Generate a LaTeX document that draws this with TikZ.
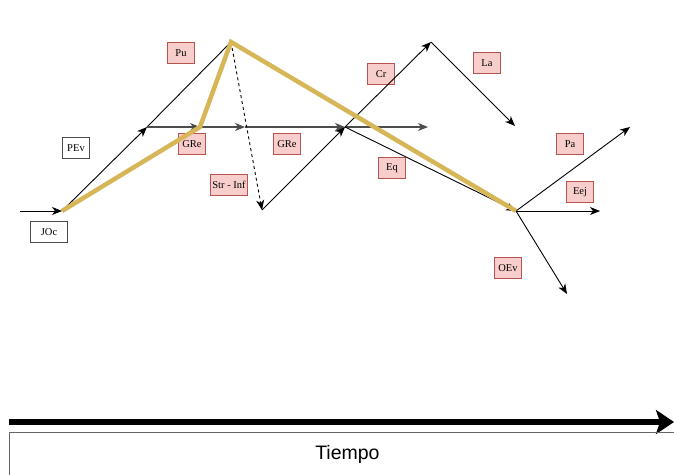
\documentclass[tikz,border=0pt]{standalone}
\usepackage{fontspec}
\setmainfont{Liberation Serif}
\newfontfamily\tiempofont{Liberation Sans}
\usepackage{xcolor}
\usetikzlibrary{arrows.meta}
\definecolor{etqfill}{HTML}{F8CECC}
\definecolor{etqdraw}{HTML}{B85450}
\definecolor{senda}{HTML}{D6B656}
\tikzset{
  etq/.style={draw=etqdraw, line width=1pt, fill=etqfill, minimum width=27pt, minimum height=21pt, inner sep=2pt, font=\fontsize{10.5}{12}\selectfont},
  etqw/.style={etq, draw=black!70, fill=white},
  flecha/.style={-{Stealth[length=10pt, width=8pt, inset=3pt]}, line width=0.9pt},
  guia/.style={flecha, black!70, line width=1.3pt},
  sendero/.style={senda, line width=4.5pt, line join=miter},
}

\begin{document}
\begin{tikzpicture}[x=1pt, y=-1pt]
    \useasboundingbox (0,0) rectangle (674,474);
    % puntos de paso
    \coordinate (entrada) at (20,211);
    \coordinate (joc) at (62,211);
    \coordinate (pev) at (147,127);
    \coordinate (pu) at (231,42);
    \coordinate (gre) at (200,127);
    \coordinate (gre2) at (245,127);
    \coordinate (cruce) at (345,127);
    \coordinate (fin) at (428,127);
    \coordinate (inf) at (262,210);
    \coordinate (cr) at (431,42);
    \coordinate (la) at (515,126);
    \coordinate (eq) at (516,211);
    \coordinate (pa) at (630,127);
    \coordinate (eej) at (600,211);
    \coordinate (oev) at (567,294);
    % etiquetas
    \node[etq] (lpu) at (181,53) {Pu};
    \node[etq] (lgre) at (192,144) {GRe};
    \node[etq, minimum width=37pt] (lstr) at (229,185) {Str - Inf};
    \node[etq] (lgre2) at (287,144) {GRe};
    \node[etq] (lcr) at (381,74) {Cr};
    \node[etq] (lla) at (487,63) {La};
    \node[etq] (leq) at (392,168) {Eq};
    \node[etq] (lpa) at (570,144) {Pa};
    \node[etq] (leej) at (580,192) {Eej};
    \node[etq] (loev) at (508,268) {OEv};
    \node[etqw] (lpev) at (76,148) {PEv};
    \node[etqw, minimum width=37pt] (ljoc) at (49,232) {JOc};
    % flechas
    \draw[flecha] (entrada) -- (joc);
    \draw[flecha] (joc) -- (pev);
    \draw[line width=0.9pt] (pev) -- (pu);
    \draw[guia] (pev) -- (gre);
    \draw[guia] (gre) -- (gre2);
    \draw[guia] (gre2) -- (cruce);
    \draw[guia] (cruce) -- (fin);
    \draw[flecha, dashed] (pu) -- (inf);
    \draw[flecha] (inf) -- (cruce);
    \draw[flecha] (cruce) -- (cr);
    \draw[flecha] (cr) -- (la);
    \draw[flecha] (cruce) -- (eq);
    \draw[flecha] (eq) -- (pa);
    \draw[flecha] (eq) -- (eej);
    \draw[flecha] (eq) -- (oev);
    % recorrido
    \draw[sendero] (joc) -- (gre) -- (pu) -- (eq);
    % eje de tiempo
    \coordinate (t0) at (9,422);
    \coordinate (t1) at (674,422);
    \draw[line width=6pt, -{Stealth[length=18pt, width=24pt, inset=4pt]}] (t0) -- (t1);
    \node[draw=black!60, thick, anchor=north west, minimum width=676pt, minimum height=44pt, font=\tiempofont\fontsize{19.5}{22}\selectfont] (tiempo) at (9,432) {Tiempo};
  \end{tikzpicture}
\end{document}
